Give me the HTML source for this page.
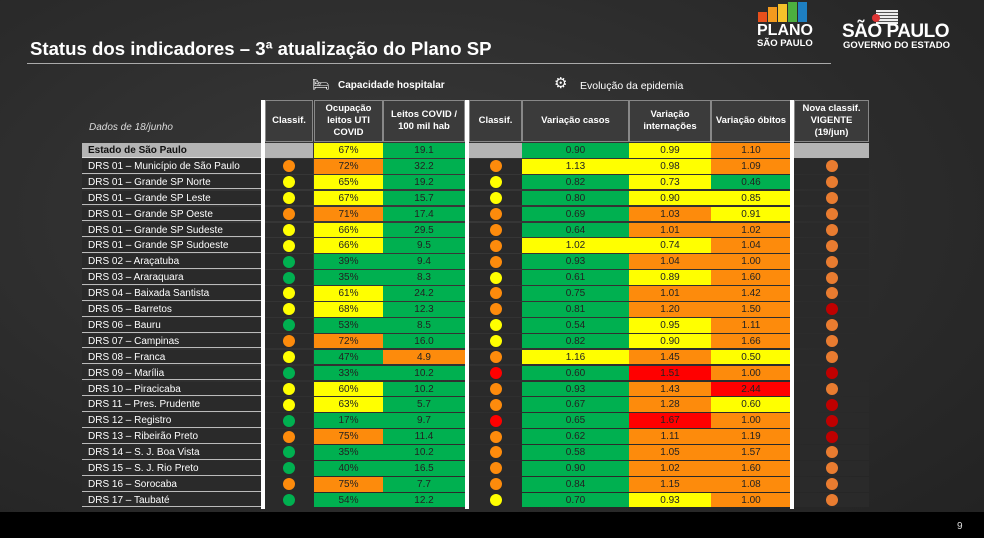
<!DOCTYPE html>
<html><head><meta charset="utf-8">
<style>
html,body{margin:0;padding:0}
body{width:984px;height:538px;overflow:hidden;position:relative;background:radial-gradient(ellipse at 40% 40%,#3a3a3a 0%,#2c2c2c 55%,#222 100%);font-family:"Liberation Sans",sans-serif}
.abs{position:absolute;box-sizing:border-box}
#title{left:30px;top:38px;color:#fff;font-size:18.6px;font-weight:bold;white-space:nowrap}
#rule{left:27px;top:63px;width:804px;height:1px;background:#aaa}
.sec{color:#fff;font-size:10.5px;white-space:nowrap}
.cell{font-size:10px;text-align:center;color:#222;overflow:hidden;white-space:nowrap}
.hd{background:#3b3b3b;color:#fff;font-weight:bold;font-size:9.5px;display:flex;align-items:center;justify-content:center;text-align:center;line-height:12px;border:1px solid #888}
.nm{background:#2a2a2a;color:#fff;text-align:left;padding-left:6px;border-bottom:1px solid #bbb}
.dot{position:absolute;border-radius:50%;width:12px;height:12px}
.vbar{background:#fff}
#foot{left:0;top:512px;width:984px;height:26px;background:#000}
</style></head><body>
<div class="abs" id="title">Status dos indicadores – 3ª atualização do Plano SP</div>
<div class="abs" id="rule"></div>

<div class="abs" style="left:757px;top:2px;width:66px;height:52px">
 <div class="abs" style="left:1px;top:10px;width:9px;height:10px;background:#e8501c"></div>
 <div class="abs" style="left:11px;top:5px;width:9px;height:15px;background:#f39a1e"></div>
 <div class="abs" style="left:21px;top:2px;width:9px;height:18px;background:#f6c12a"></div>
 <div class="abs" style="left:31px;top:0px;width:9px;height:20px;background:#4caf3f"></div>
 <div class="abs" style="left:41px;top:0px;width:9px;height:20px;background:#1e7fc1"></div>
 <div class="abs" style="left:0;top:21px;color:#fff;font-weight:bold;font-size:16px;line-height:16px">PLANO</div>
 <div class="abs" style="left:0;top:37px;color:#fff;font-weight:bold;font-size:9.5px;line-height:10px">SÃO PAULO</div>
</div>
<div class="abs" style="left:842px;top:8px;width:120px;height:46px">
 <div class="abs" style="left:34px;top:2px;width:22px;height:14px;background:repeating-linear-gradient(180deg,#eee 0 2px,#555 2px 3px)"></div>
 <div class="abs" style="left:30px;top:6px;width:8px;height:8px;background:#d33;border-radius:50%"></div>
 <div class="abs" style="left:0;top:14px;color:#fff;font-weight:bold;font-size:19px;line-height:20px;letter-spacing:-0.5px">SÃO PAULO</div>
 <div class="abs" style="left:1px;top:33px;color:#fff;font-weight:bold;font-size:9.5px;line-height:10px">GOVERNO DO ESTADO</div>
</div>

<div class="abs sec" style="left:312px;top:76px;font-size:14px">🛏</div>
<div class="abs sec" style="left:338px;top:80px;font-weight:bold;font-size:10px">Capacidade hospitalar</div>
<div class="abs sec" style="left:554px;top:74px;font-size:15px">⚙</div>
<div class="abs sec" style="left:580px;top:80px">Evolução da epidemia</div>
<div class="abs" style="left:89px;top:122px;color:#ddd;font-style:italic;font-size:10px">Dados de 18/junho</div>

<div id="table"></div>
<div class="abs" id="foot"><span style="position:absolute;left:957px;top:9px;color:#ddd;font-size:10px">9</span></div>

<script>
const regions = ["Estado de São Paulo","DRS 01 – Município de São Paulo","DRS 01 – Grande SP Norte","DRS 01 – Grande SP Leste","DRS 01 – Grande SP Oeste","DRS 01 – Grande SP Sudeste","DRS 01 – Grande SP Sudoeste","DRS 02 – Araçatuba","DRS 03 – Araraquara","DRS 04 – Baixada Santista","DRS 05 – Barretos","DRS 06 – Bauru","DRS 07 – Campinas","DRS 08 – Franca","DRS 09 – Marília","DRS 10 – Piracicaba","DRS 11 – Pres. Prudente","DRS 12 – Registro","DRS 13 – Ribeirão Preto","DRS 14 – S. J. Boa Vista","DRS 15 – S. J. Rio Preto","DRS 16 – Sorocaba","DRS 17 – Taubaté"];
const classHosp = ["","o","y","y","o","y","y","g","g","y","y","g","o","y","g","y","y","g","o","g","g","o","g"];
const ocupacao = [67,72,65,67,71,66,66,39,35,61,68,53,72,47,33,60,63,17,75,35,40,75,54];
const leitos = [19.1,32.2,19.2,15.7,17.4,29.5,9.5,9.4,8.3,24.2,12.3,8.5,16.0,4.9,10.2,10.2,5.7,9.7,11.4,10.2,16.5,7.7,12.2];
const classEpi = ["","o","y","y","o","o","o","o","y","o","o","y","y","o","r","o","o","r","o","o","o","o","y"];
const casos = [0.90,1.13,0.82,0.80,0.69,0.64,1.02,0.93,0.61,0.75,0.81,0.54,0.82,1.16,0.60,0.93,0.67,0.65,0.62,0.58,0.90,0.84,0.70];
const internacoes = [0.99,0.98,0.73,0.90,1.03,1.01,0.74,1.04,0.89,1.01,1.20,0.95,0.90,1.45,1.51,1.43,1.28,1.67,1.11,1.05,1.02,1.15,0.93];
const obitos = [1.10,1.09,0.46,0.85,0.91,1.02,1.04,1.00,1.60,1.42,1.50,1.11,1.66,0.50,1.00,2.44,0.60,1.00,1.19,1.57,1.60,1.08,1.00];
const novaClass = ["","o","o","o","o","o","o","o","o","o","r","o","o","o","r","o","r","r","r","o","o","o","o"];

const C={g:"#00b050",y:"#ffff00",o:"#fd8b0c",r:"#ff0000"};
const DOT={g:"#00b050",y:"#ffff00",o:"#fd8b0c",r:"#ff0000"};
const NDOT={o:"#e97c30",r:"#c00000"};
function cOcup(v){return v<60?C.g:v<70?C.y:C.o;}
function cLeitos(v){return v<5?C.o:C.g;}
function cCasos(v){return v<1?C.g:C.y;}
function cInt(v){return v<1?C.y:v<=1.5?C.o:C.r;}
function cOb(v){return v<0.5?C.g:v<1?C.y:v<=2?C.o:C.r;}

const T=document.getElementById('table');
function box(x,y,w,h,cls,txt,style){const d=document.createElement('div');d.className='abs '+cls;d.style.left=x+'px';d.style.top=y+'px';d.style.width=w+'px';d.style.height=h+'px';d.style.lineHeight=(h+1)+'px';if(style)d.style.cssText+=style;if(txt!==undefined)d.innerHTML=txt;T.appendChild(d);return d;}

const cols={name:[82,179],c1:[265,48],ocu:[314,69],lei:[383,82],c2:[469,53],cas:[522,107],int:[629,82],ob:[711,80],nv:[794,75]};
const headY=100, headH=42, rowY=143, rowH=15.9;
const heads=[["c1","Classif.","header-classif-hospitalar"],["ocu","Ocupação<br>leitos UTI<br>COVID","header-ocupacao-uti"],["lei","Leitos COVID /<br>100 mil hab","header-leitos-covid"],["c2","Classif.","header-classif-epidemia"],["cas","Variação casos","header-variacao-casos"],["int","Variação<br>internações","header-variacao-internacoes"],["ob","Variação óbitos","header-variacao-obitos"],["nv","Nova classif.<br>VIGENTE<br>(19/jun)","header-nova-classif"]];
heads.forEach(h=>{const c=cols[h[0]];const d=box(c[0],headY,c[1],headH,'hd',h[1],'line-height:12px');

});

function dot(parent,col,cy,color,name){const c=cols[col];const d=document.createElement('div');d.className='dot';d.style.left=(c[0]+c[1]/2-6)+'px';d.style.top=(cy-6)+'px';d.style.background=color;


T.appendChild(d);}

regions.forEach((r,i)=>{
 const y=rowY+i*rowH, h=rowH-1.2, first=i===0;
 const rowBg=first?'#b4b4b4':'#2a2a2a';
 const n=box(cols.name[0],y,cols.name[1],h,'cell nm',r,first?'background:#b4b4b4;color:#111;font-weight:bold;border-bottom:1px solid #ddd':'');
 
 
 const c1=box(cols.c1[0],y,cols.c1[1],h,'cell','', 'background:'+rowBg);
 
 
 if(classHosp[i])dot(T,'c1',y+h/2,DOT[classHosp[i]],'classif-hospitalar-dot');
 const o=box(cols.ocu[0],y,cols.ocu[1],h,'cell',ocupacao[i]+'%','background:'+cOcup(ocupacao[i]));
 
 
 const l=box(cols.lei[0],y,cols.lei[1],h,'cell',leitos[i].toFixed(1),'background:'+cLeitos(leitos[i]));
 
 
 const c2=box(cols.c2[0],y,cols.c2[1],h,'cell','','background:'+rowBg);
 
 
 if(classEpi[i])dot(T,'c2',y+h/2,DOT[classEpi[i]],'classif-epidemia-dot');
 const ca=box(cols.cas[0],y,cols.cas[1],h,'cell',casos[i].toFixed(2),'background:'+cCasos(casos[i]));
 
 
 const it=box(cols.int[0],y,cols.int[1],h,'cell',internacoes[i].toFixed(2),'background:'+cInt(internacoes[i]));
 
 
 const ob=box(cols.ob[0],y,cols.ob[1],h,'cell',obitos[i].toFixed(2),'background:'+cOb(obitos[i]));
 
 
 const nv=box(cols.nv[0],y,cols.nv[1],h,'cell','','background:'+rowBg);
 
 
 if(novaClass[i])dot(T,'nv',y+h/2,NDOT[novaClass[i]],'nova-classif-dot');
});
[[261,4],[465,4],[790,4]].forEach(s=>{const v=box(s[0],headY,s[1],rowY+regions.length*rowH-headY,'vbar');

});
</script>
</body></html>
